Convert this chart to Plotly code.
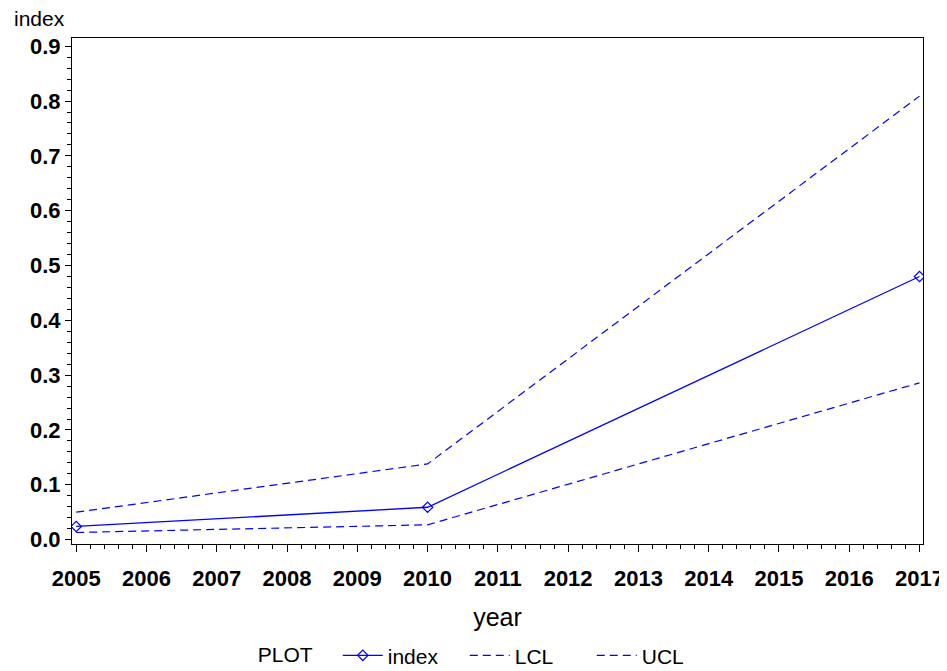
import plotly.graph_objects as go

years = [2005, 2010, 2017]
index_vals = [0.024, 0.059, 0.480]
lcl_vals = [0.013, 0.027, 0.286]
ucl_vals = [0.050, 0.138, 0.809]
x_ticks = list(range(2005, 2018))
y_ticks = [0.0, 0.1, 0.2, 0.3, 0.4, 0.5, 0.6, 0.7, 0.8, 0.9]

BLUE = "#0000ff"
FONT = "Liberation Sans"

# page body has an 8px default margin, so the figure is 8px smaller each way
W, H = 939, 663

fig = go.Figure()
fig.add_trace(go.Scatter(x=years, y=index_vals, name="index", mode="lines+markers",
                         line=dict(color=BLUE, width=1.3),
                         marker=dict(symbol="diamond-open", size=8, color=BLUE, line=dict(width=1.2))))
fig.add_trace(go.Scatter(x=years, y=lcl_vals, name="LCL", mode="lines",
                         line=dict(color=BLUE, width=1.2, dash="8px,5px")))
fig.add_trace(go.Scatter(x=years, y=ucl_vals, name="UCL", mode="lines",
                         line=dict(color=BLUE, width=1.2, dash="8px,5px")))

fig.update_layout(
    width=W, height=H,
    margin=dict(l=64, r=24, t=30, b=127),
    paper_bgcolor="white", plot_bgcolor="white",
    font=dict(family=FONT, size=21, color="black"),
    showlegend=True,
    legend=dict(orientation="h", x=0.488, xanchor="center", yref="container",
                y=0.054, yanchor="top",
                title=dict(text="PLOT   ", font=dict(size=21)),
                font=dict(size=21), entrywidth=72, entrywidthmode="pixels",
                itemwidth=40),
    annotations=[dict(text="index", xref="paper", yref="paper", x=-60/851, y=1 + 20/506,
                      xanchor="left", yanchor="middle", showarrow=False, font=dict(size=21))],
)

fig.update_xaxes(range=[2004.94, 2017.05], tickmode="array", tickvals=x_ticks,
                 ticktext=[f"<b>{v}</b>" for v in x_ticks],
                 ticks="outside", ticklen=7, tickcolor="black", tickwidth=1,
                 minor=dict(ticks="outside", ticklen=4, dtick=0.2, tickcolor="black", tickwidth=1),
                 showline=True, linecolor="black", linewidth=1, mirror=True,
                 showgrid=False, zeroline=False, automargin=False, ticklabelstandoff=8,
                 title=dict(text="year", standoff=18), tickfont=dict(size=22))
fig.update_yaxes(range=[-0.008, 0.915], tickmode="array", tickvals=y_ticks,
                 ticktext=[f"<b>{v:.1f}</b>" for v in y_ticks],
                 ticks="outside", ticklen=6, tickcolor="black", tickwidth=1,
                 minor=dict(ticks="outside", ticklen=4, dtick=0.02, tickcolor="black", tickwidth=1),
                 showline=True, linecolor="black", linewidth=1, mirror=True,
                 showgrid=False, zeroline=False, automargin=False, tickfont=dict(size=22))

fig.write_html("out.html")
